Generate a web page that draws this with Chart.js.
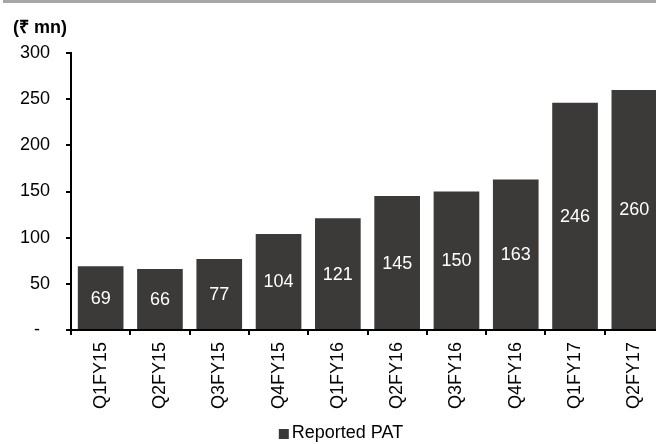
<!DOCTYPE html>
<html>
<head>
<meta charset="utf-8">
<script src="https://cdn.jsdelivr.net/npm/chart.js@4/dist/chart.umd.min.js"></script>
<style>
  html, body { margin: 0; padding: 0; background: #ffffff; overflow: hidden; }
  #wrap { position: relative; width: 656px; height: 444px; overflow: hidden; }
  #band { position: absolute; left: 3px; top: 0; width: 653px; height: 3px; background: #a6a6a6; z-index: 2; }
  #box { position: absolute; left: 0; top: 0; width: 664px; height: 444px; }
</style>
</head>
<body>
<div id="wrap">
  <div id="band"></div>
  <div id="box"><canvas id="c" width="664" height="444"></canvas></div>
</div>
<script>
// Quarterly reported profit after tax, ₹ mn
const quarters = ['Q1FY15', 'Q2FY15', 'Q3FY15', 'Q4FY15', 'Q1FY16', 'Q2FY16', 'Q3FY16', 'Q4FY16', 'Q1FY17', 'Q2FY17'];
const reportedPAT = [69, 66, 77, 104, 121, 145, 150, 163, 246, 260];
const seriesName = 'Reported PAT';
const unitLabel = '(₹ mn)';
const yTicks = [0, 50, 100, 150, 200, 250, 300];

const FONT = 'Arial, "Liberation Sans", sans-serif';
const BAR = '#3b3a38';

// value printed in the middle of each bar
const barValues = {
  id: 'barValues',
  afterDatasetsDraw(chart) {
    const ctx = chart.ctx;
    ctx.save();
    ctx.fillStyle = '#ffffff';
    ctx.font = '18px ' + FONT;
    ctx.textAlign = 'center';
    ctx.textBaseline = 'middle';
    chart.getDatasetMeta(0).data.forEach((bar, i) => {
      const v = chart.data.datasets[0].data[i];
      ctx.fillText(String(v), bar.x, (bar.y + bar.base) / 2 + 1);
    });
    ctx.restore();
  }
};

// unit caption above the value axis
const unitCaption = {
  id: 'unitCaption',
  afterDraw(chart) {
    const ctx = chart.ctx;
    ctx.save();
    ctx.fillStyle = '#000000';
    ctx.font = 'bold 18px ' + FONT;
    ctx.textAlign = 'left';
    ctx.textBaseline = 'middle';
    ctx.fillText(unitLabel, 13, 28);
    ctx.restore();
  }
};

// single-entry key under the category labels
const seriesKey = {
  id: 'seriesKey',
  afterDraw(chart) {
    const ctx = chart.ctx;
    const ds = chart.data.datasets[0];
    ctx.save();
    ctx.font = '18px ' + FONT;
    const tw = ctx.measureText(ds.label).width;
    const box = 10, gap = 3;
    const total = box + gap + tw;
    const x0 = 341 - total / 2;
    const cy = 433;
    ctx.fillStyle = ds.backgroundColor;
    ctx.fillRect(x0, cy - box / 2 + 1, box, box);
    ctx.fillStyle = '#000000';
    ctx.textAlign = 'left';
    ctx.textBaseline = 'middle';
    ctx.fillText(ds.label, x0 + box + gap, cy);
    ctx.restore();
  }
};

new Chart(document.getElementById('c'), {
  type: 'bar',
  data: {
    labels: quarters,
    datasets: [{
      label: seriesName,
      data: reportedPAT,
      backgroundColor: BAR,
      borderWidth: 0,
      barPercentage: 0.77,
      categoryPercentage: 1.0
    }]
  },
  options: {
    responsive: false,
    animation: false,
    layout: { padding: { top: 53, left: 13, right: 0, bottom: 34 } },
    plugins: {
      legend: { display: false },
      title: { display: false },
      tooltip: { enabled: false }
    },
    scales: {
      x: {
        offset: true,
        grid: {
          offset: true,
          drawOnChartArea: false,
          drawTicks: true,
          tickLength: 5,
          color: '#000000',
          lineWidth: 2
        },
        border: { display: true, color: '#000000', width: 2 },
        ticks: {
          color: '#000000',
          font: { family: FONT, size: 18 },
          minRotation: 90,
          maxRotation: 90,
          padding: 7,
          autoSkip: false
        },
        afterFit(scale) { scale.height = 80; }
      },
      y: {
        min: 0,
        max: 300,
        afterBuildTicks(scale) { scale.ticks = yTicks.map(v => ({ value: v })); },
        grid: {
          drawOnChartArea: false,
          drawTicks: true,
          tickLength: 5,
          color: '#000000',
          lineWidth: 2
        },
        border: { display: true, color: '#000000', width: 2 },
        ticks: {
          color: '#000000',
          font: { family: FONT, size: 18 },
          padding: 16,
          callback: (v) => (v === 0 ? '-  ' : String(v))
        },
        afterFit(scale) { scale.width = 58; }
      }
    }
  },
  plugins: [barValues, unitCaption, seriesKey]
});
</script>
</body>
</html>
